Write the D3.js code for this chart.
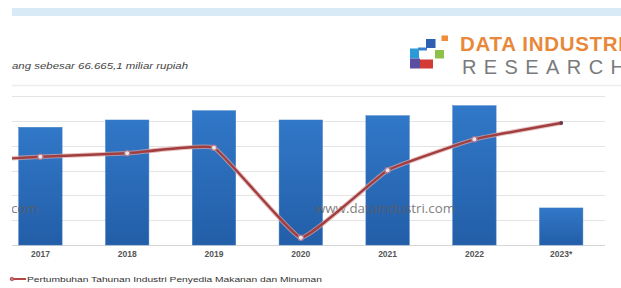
<!DOCTYPE html>
<html>
<head>
<meta charset="utf-8">
<script src="https://cdn.jsdelivr.net/npm/d3@7"></script>
<style>
  html, body { margin: 0; padding: 0; background: #fff; }
  svg { display: block; }
</style>
</head>
<body>
<svg id="chart" width="621" height="288"></svg>
<script>
// ---- data ----
const years = ["2016", "2017", "2018", "2019", "2020", "2021", "2022", "2023*"];
const barYears = ["2017", "2018", "2019", "2020", "2021", "2022", "2023*"];
const barValues = [211.9, 225.1, 241.8, 225.1, 232.8, 250.8, 66.7];     // triliun rupiah (est.)
const growthValues = [3.4, 4.22, 4.77, 5.67, -8.82, 2.03, 7.02, 9.65];   // % (est.)
const subtitle = "ang sebesar 66.665,1 miliar rupiah";
const legendLabel = "Pertumbuhan Tahunan Industri Penyedia Makanan dan Minuman";
const watermark = "www.dataindustri.com";

const svg = d3.select("#chart");

// header band & separator
svg.append("rect").attr("x", 12).attr("y", 8).attr("width", 609).attr("height", 8).attr("fill", "#d8eaf6");
svg.append("line").attr("x1", 12).attr("x2", 621).attr("y1", 85.5).attr("y2", 85.5).attr("stroke", "#ececec").attr("stroke-width", 1.5);

// subtitle
svg.append("text").attr("x", 12).attr("y", 69).text(subtitle)
  .attr("font-family", "Liberation Sans, Arial, sans-serif").attr("font-style", "italic")
  .attr("font-size", 9.5).attr("fill", "#444")
  .attr("textLength", 176).attr("lengthAdjust", "spacingAndGlyphs");

// logo
const logo = svg.append("g");
const squares = [
  [441.5, 35.5, 6.5, 5.5, "#f08c3a"],
  [426, 39, 9.5, 9, "#2f5fb0"],
  [418, 47.5, 9, 3, "#3b7fd0"],
  [410, 48.5, 9, 10, "#2d9ad8"],
  [435, 50, 9, 8.5, "#8fc04a"],
  [410, 58.5, 10, 10, "#5a4ea3"],
  [420, 59.5, 13, 9, "#d23a36"]
];
logo.selectAll("rect").data(squares).join("rect")
  .attr("x", d => d[0]).attr("y", d => d[1]).attr("width", d => d[2]).attr("height", d => d[3])
  .attr("fill", d => d[4]);
logo.append("text").attr("x", 460).attr("y", 51).text("DATA INDUSTRI")
  .attr("font-family", "Liberation Sans, Arial, sans-serif").attr("font-weight", "bold")
  .attr("font-size", 20.5).attr("fill", "#e8883a").attr("letter-spacing", 0.7);
logo.append("text").attr("x", 462).attr("y", 74).text("RESEARCH")
  .attr("font-family", "Liberation Sans, Arial, sans-serif")
  .attr("font-size", 20).attr("fill", "#7a7a7a").attr("letter-spacing", 7.4);

// ---- scales ----
const x = d3.scaleBand().domain(years).range([-89.8, 604.6]).paddingInner(0.5).paddingOuter(0.25);
const yBar = d3.scaleLinear().domain([0, 268.3]).range([245, 96]);
const yLine = d3.scaleLinear().domain([-10, 14]).range([245, 96]);

// clip
const defs = svg.append("defs");
defs.append("clipPath").attr("id", "plotclip")
  .append("rect").attr("x", 12).attr("y", 86).attr("width", 609).attr("height", 170);
const grad = defs.append("linearGradient").attr("id", "barg").attr("x1", 0).attr("y1", 0).attr("x2", 0).attr("y2", 1);
grad.append("stop").attr("offset", "0%").attr("stop-color", "#3178c8");
grad.append("stop").attr("offset", "100%").attr("stop-color", "#235ea8");

const plot = svg.append("g").attr("clip-path", "url(#plotclip)");

// gridlines
const gridStep = 268.3 / 6;
const gridVals = d3.range(0, 7).map(i => i * gridStep);
plot.selectAll("line.grid").data(gridVals).join("line")
  .attr("x1", 12).attr("x2", 605)
  .attr("y1", d => Math.round(yBar(d)) + 0.5).attr("y2", d => Math.round(yBar(d)) + 0.5)
  .attr("stroke", d => d === 0 ? "#d6d6d6" : "#e4e4e4").attr("stroke-width", 1);

// bars
plot.selectAll("rect.bar").data(barYears.map((y, i) => ({ y, v: barValues[i] }))).join("rect")
  .attr("x", d => x(d.y)).attr("width", x.bandwidth())
  .attr("y", d => yBar(d.v)).attr("height", d => yBar(0) - yBar(d.v))
  .attr("fill", "url(#barg)").attr("stroke", "#3d7cc4").attr("stroke-width", 0.5);

// watermarks
plot.append("text").attr("x", 38).attr("y", 213).attr("text-anchor", "end").text(watermark)
  .attr("font-family", "Open Sans, sans-serif").attr("font-size", 13.5).attr("fill", "#5e5e5e").attr("opacity", 0.8);
plot.append("text").attr("x", 315).attr("y", 213).text(watermark)
  .attr("font-family", "Open Sans, sans-serif").attr("font-size", 13.5).attr("fill", "#5e5e5e").attr("opacity", 0.8)
  .attr("textLength", 140).attr("lengthAdjust", "spacingAndGlyphs");

// growth line
const pts = years.map((y, i) => ({ y, v: growthValues[i] }));
const line = d3.line().x(d => x(d.y) + x.bandwidth() / 2).y(d => yLine(d.v)).curve(d3.curveCardinal.tension(0.7));
plot.append("path").datum(pts).attr("d", line).attr("fill", "none")
  .attr("stroke", "#e0a7a7").attr("stroke-width", 4.5).attr("stroke-linejoin", "round").attr("opacity", 0.7);
plot.append("path").datum(pts).attr("d", line).attr("fill", "none")
  .attr("stroke", "#a03e40").attr("stroke-width", 2.4).attr("stroke-linejoin", "round");

plot.selectAll("circle.mk").data(pts.filter(d => d.y !== "2016" && d.y !== "2023*")).join("circle")
  .attr("cx", d => x(d.y) + x.bandwidth() / 2).attr("cy", d => yLine(d.v)).attr("r", 2.6)
  .attr("fill", "#e8e8ee").attr("stroke", "#b07a8c").attr("stroke-width", 1.2);
plot.selectAll("circle.last").data(pts.filter(d => d.y === "2023*")).join("circle")
  .attr("cx", d => x(d.y) + x.bandwidth() / 2).attr("cy", d => yLine(d.v)).attr("r", 2)
  .attr("fill", "#6a3a44");

// x axis labels
const xAxis = d3.axisBottom(x).tickSize(0).tickPadding(0).tickValues(barYears);
const ax = svg.append("g").attr("transform", "translate(0,251)").call(xAxis);
ax.select(".domain").remove();
ax.selectAll("text").attr("font-family", "Liberation Sans, Arial, sans-serif").attr("font-weight", "bold")
  .attr("font-size", 8.5).attr("fill", "#555");

// legend
const lg = svg.append("g");
lg.append("line").attr("x1", 10).attr("x2", 26).attr("y1", 279).attr("y2", 279).attr("stroke", "#b5474a").attr("stroke-width", 2);
lg.append("circle").attr("cx", 12).attr("cy", 279).attr("r", 1.8).attr("fill", "#c77").attr("stroke", "#b5474a").attr("stroke-width", 0.8);
lg.append("text").attr("x", 27).attr("y", 282).text(legendLabel)
  .attr("font-family", "Liberation Sans, Arial, sans-serif").attr("font-size", 8).attr("fill", "#333")
  .attr("textLength", 295).attr("lengthAdjust", "spacingAndGlyphs");
</script>
</body>
</html>
